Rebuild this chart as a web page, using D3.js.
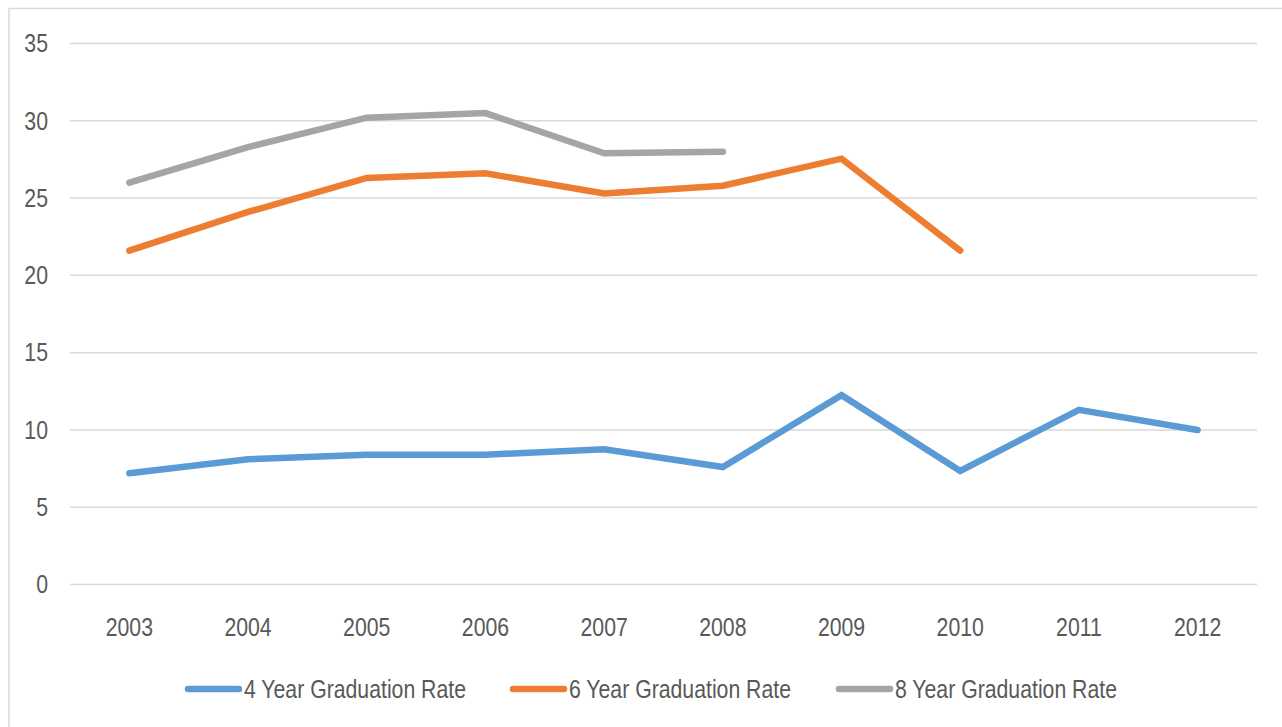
<!DOCTYPE html>
<html>
<head>
<meta charset="utf-8">
<script src="https://cdn.jsdelivr.net/npm/d3@7"></script>
<style>
  body { margin: 0; background: #fff; }
  text { font-family: "Liberation Sans", Arial, sans-serif; fill: #595959; }
</style>
</head>
<body>
<div id="root"></div>
<script>
// chart data
const years = ['2003', '2004', '2005', '2006', '2007', '2008', '2009', '2010', '2011', '2012'];
const rate4 = [7.2, 8.1, 8.4, 8.4, 8.75, 7.6, 12.25, 7.35, 11.3, 10.0];
const rate6 = [21.6, 24.1, 26.3, 26.6, 25.3, 25.8, 27.55, 21.6, null, null];
const rate8 = [26.0, 28.3, 30.2, 30.5, 27.9, 28.0, null, null, null, null];
const seriesNames = ['4 Year Graduation Rate', '6 Year Graduation Rate', '8 Year Graduation Rate'];
const yTicks = [0, 5, 10, 15, 20, 25, 30, 35];

const colors = ['#5B9BD5', '#ED7D31', '#A5A5A5'];
const W = 1282, H = 727;
const plotLeft = 70, plotRight = 1257, plotTop = 43.5, plotBottom = 584.5;
const squeeze = 0.85; // no condensed font installed, so narrow the glyphs by hand

const svg = d3.select('#root').append('svg').attr('width', W).attr('height', H);

// outer chart border (runs off the page on the right and bottom)
svg.append('rect')
  .attr('x', 9).attr('y', 8.5).attr('width', W).attr('height', H)
  .attr('fill', 'none').attr('stroke', '#D9D9D9').attr('stroke-width', 1.5);

const x = d3.scalePoint().domain(years).range([plotLeft, plotRight]).padding(0.5);
const y = d3.scaleLinear().domain([0, 35]).range([plotBottom, plotTop]);

// gridlines
svg.append('g').selectAll('line').data(yTicks).enter().append('line')
  .attr('x1', plotLeft).attr('x2', plotRight)
  .attr('y1', d => y(d)).attr('y2', d => y(d))
  .attr('stroke', '#D9D9D9').attr('stroke-width', 1.5);

// y labels
svg.append('g').selectAll('text').data(yTicks).enter().append('text')
  .attr('transform', d => `translate(48,${y(d)}) scale(${squeeze},1)`)
  .attr('dy', '0.35em').attr('text-anchor', 'end')
  .attr('font-size', 25)
  .text(d => d);

// x labels
svg.append('g').selectAll('text').data(years).enter().append('text')
  .attr('transform', d => `translate(${x(d)},636) scale(${squeeze},1)`)
  .attr('text-anchor', 'middle')
  .attr('font-size', 25)
  .text(d => d);

const series = [rate4, rate6, rate8];
const line = d3.line()
  .defined(d => d != null)
  .x((d, i) => x(years[i]))
  .y(d => y(d));

svg.append('g').selectAll('path').data(series).enter().append('path')
  .attr('d', line)
  .attr('fill', 'none')
  .attr('stroke', (d, i) => colors[i])
  .attr('stroke-width', 6.5)
  .attr('stroke-linecap', 'round')
  .attr('stroke-linejoin', 'miter');

// legend
const legendX = [185, 510, 836];
const lg = svg.append('g').selectAll('g').data(seriesNames).enter().append('g')
  .attr('transform', (d, i) => `translate(${legendX[i]},689)`);
lg.append('line')
  .attr('x1', 3).attr('x2', 54).attr('y1', 0).attr('y2', 0)
  .attr('stroke', (d, i) => colors[i]).attr('stroke-width', 6.5).attr('stroke-linecap', 'round');
lg.append('text')
  .attr('transform', `translate(59,0) scale(${squeeze},1)`)
  .attr('dy', '0.35em')
  .attr('font-size', 25)
  .text(d => d);
</script>
</body>
</html>
